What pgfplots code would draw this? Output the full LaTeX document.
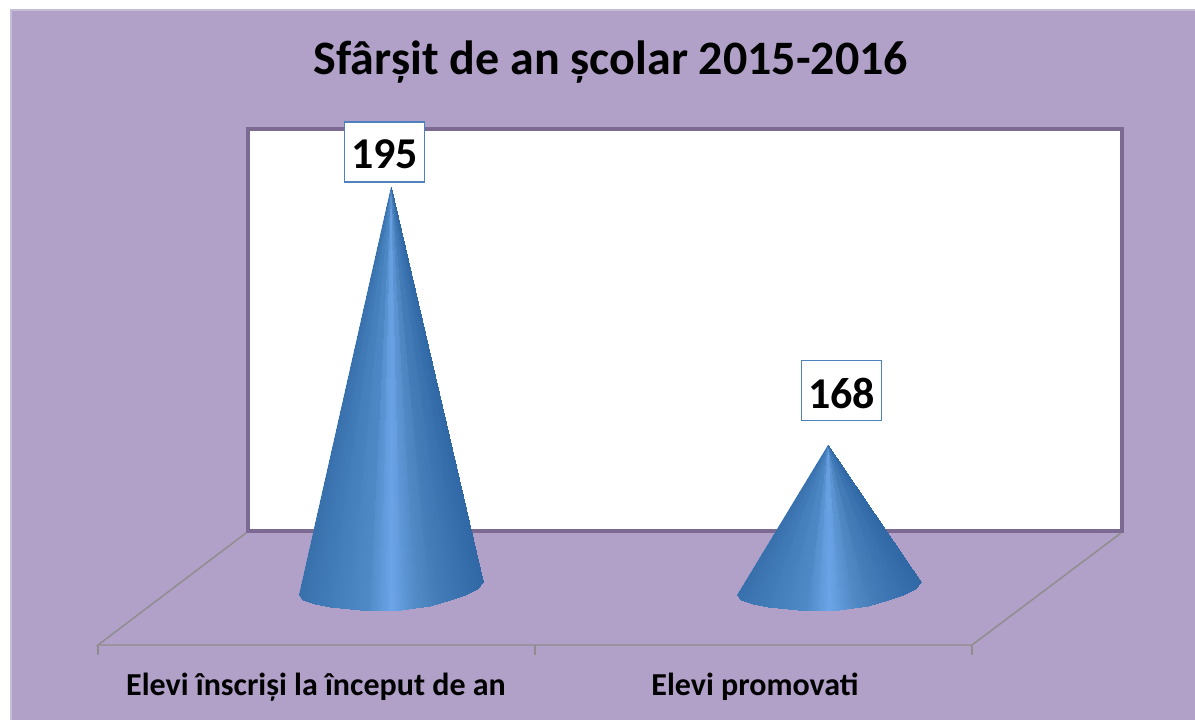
\documentclass[border=0pt]{standalone}
\usepackage{pgfplots}
\pgfplotsset{compat=1.18}
\usepackage{fontspec}
\setmainfont{Carlito}
\definecolor{bgp}{HTML}{B1A0C7}
\definecolor{bge}{HTML}{C6BCD7}
\definecolor{framec}{HTML}{7C6A93}
\definecolor{floorc}{HTML}{8E8E8E}
\definecolor{boxc}{HTML}{4F81BD}
\definecolor{conem}{HTML}{4A85C0}
\pgfplotsset{
  common/.style={width=896.25pt,height=540pt,scale only axis,at={(0,0)},anchor=south west,hide axis,clip=false},
  colormap={cone}{rgb255=(56,112,172) rgb255=(64,122,182) rgb255=(72,130,190) rgb255=(80,138,198) rgb255=(108,165,232) rgb255=(84,140,200) rgb255=(68,124,184) rgb255=(58,114,176) rgb255=(48,104,166)}
}
\begin{document}
\begin{tikzpicture}
% Furniture, in pixel coordinates of the reference
\begin{axis}[common,xmin=0,xmax=1195,ymin=0,ymax=720,y dir=reverse]
\fill[white] (axis cs:0,0) rectangle (axis cs:1195,720);
\fill[bge] (axis cs:10,9) rectangle (axis cs:1195,720);
\fill[bgp] (axis cs:12,11) rectangle (axis cs:1195,720);
\addplot[draw=framec,fill=white,line width=2.6pt] coordinates {(248,129) (1122,129) (1122,531) (248,531)} -- cycle;
\addplot[floorc,line width=1.1pt] coordinates {(246,533) (98,645) (972,645) (1121,533)};
\addplot[floorc,line width=1.1pt] coordinates {(98,645) (98,655)};
\addplot[floorc,line width=1.1pt] coordinates {(535,645) (535,655)};
\addplot[floorc,line width=1.1pt] coordinates {(972,645) (972,655)};
\node[font=\fontsize{36}{40}\selectfont\bfseries] at (axis cs:611,62) {Sfârșit de an școlar 2015-2016};
\node[font=\fontsize{24}{28}\selectfont\bfseries] at (axis cs:316,687) {Elevi înscriși la început de an};
\node[font=\fontsize{24}{28}\selectfont\bfseries] at (axis cs:755,687) {Elevi promovati};
\end{axis}
% Cones: x in reference pixels, y in data values (apex = value)
\begin{axis}[common,xmin=0,xmax=1195,ymin=139.223,ymax=214.569,colormap name=cone,point meta min=0,point meta max=1]
\addplot[draw=none,fill=conem] coordinates {(391,195) (299,152.30) (303,151.78) (315,151.36) (330,151.10) (350,150.84) (370,150.68) (391,150.68) (415,150.94) (430,151.15) (450,151.73) (465,152.30) (477,152.93) (483,153.67)} -- cycle;
\addplot[patch,shader=interp,point meta=explicit] table[meta=m] {
x y m
299 152.30 0
303 151.78 .022
391 195 .011
303 151.78 .022
315 151.36 .087
391 195 .055
315 151.36 .087
330 151.10 .168
391 195 .128
330 151.10 .168
350 150.84 .277
391 195 .222
350 150.84 .277
370 150.68 .386
391 195 .332
370 150.68 .386
381 150.68 .446
391 195 .416
381 150.68 .446
391 150.68 .5
391 195 .473
391 150.68 .5
401 150.77 .554
391 195 .527
401 150.77 .554
415 150.94 .63
391 195 .592
415 150.94 .63
430 151.15 .712
391 195 .671
430 151.15 .712
450 151.73 .821
391 195 .767
450 151.73 .821
465 152.30 .902
391 195 .862
465 152.30 .902
477 152.93 .967
391 195 .935
477 152.93 .967
483 153.67 1
391 195 .984
};
\addplot[draw=none,fill=conem] coordinates {(828,168) (737,152.30) (741,151.78) (753,151.36) (768,151.10) (788,150.84) (808,150.68) (829,150.68) (853,150.94) (868,151.15) (888,151.73) (903,152.30) (915,152.93) (921,153.67)} -- cycle;
\addplot[patch,shader=interp,point meta=explicit] table[meta=m] {
x y m
737 152.30 0
741 151.78 .022
828 168 .011
741 151.78 .022
753 151.36 .087
828 168 .055
753 151.36 .087
768 151.10 .168
828 168 .128
768 151.10 .168
788 150.84 .277
828 168 .222
788 150.84 .277
808 150.68 .386
828 168 .332
808 150.68 .386
819 150.68 .446
828 168 .416
819 150.68 .446
829 150.68 .5
828 168 .473
829 150.68 .5
839 150.77 .554
828 168 .527
839 150.77 .554
853 150.94 .63
828 168 .592
853 150.94 .63
868 151.15 .712
828 168 .671
868 151.15 .712
888 151.73 .821
828 168 .767
888 151.73 .821
903 152.30 .902
828 168 .862
903 152.30 .902
915 152.93 .967
828 168 .935
915 152.93 .967
921 153.67 1
828 168 .984
};
\node[draw=boxc,fill=white,line width=0.9pt,inner sep=0pt,minimum width=60.5pt,minimum height=45pt] at (axis cs:384.5,198.66) {};
\node[font=\fontsize{33}{36}\selectfont\bfseries] at (axis cs:384.5,198.40) {195};
\node[draw=boxc,fill=white,line width=0.9pt,inner sep=0pt,minimum width=60.5pt,minimum height=45pt] at (axis cs:841.5,173.70) {};
\node[font=\fontsize{33}{36}\selectfont\bfseries] at (axis cs:841.5,173.44) {168};
\end{axis}
\end{tikzpicture}
\end{document}
